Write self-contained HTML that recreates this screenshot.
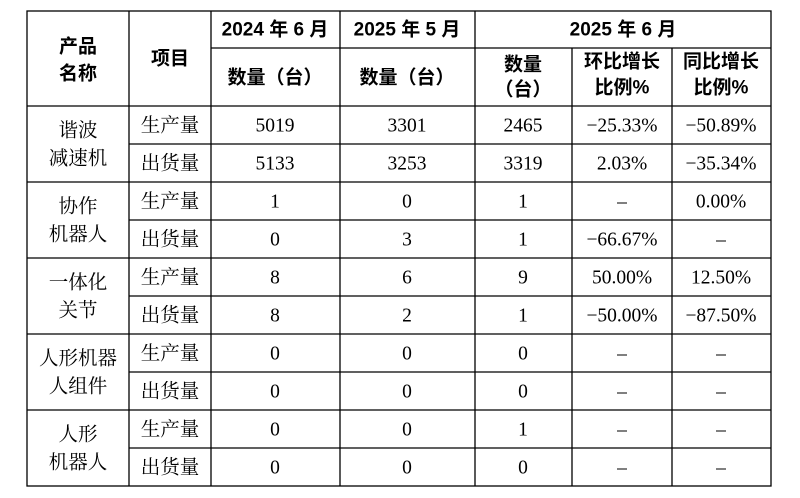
<!DOCTYPE html>
<html><head><meta charset="utf-8"><style>
html,body{margin:0;padding:0;background:#fff;}
svg text{font-family:"Liberation Serif","Noto Serif CJK SC",serif;font-size:19.5px;fill:#000;text-anchor:middle;dominant-baseline:central;}
svg text.h{font-family:"Liberation Sans","Noto Sans CJK SC",sans-serif;font-weight:bold;font-size:19px;}
</style></head><body>
<svg width="800" height="493" viewBox="0 0 800 493" xmlns="http://www.w3.org/2000/svg">
<g stroke="#000" stroke-width="1.3" fill="none">
<rect x="27" y="11" width="744" height="475"/>
<line x1="129" y1="11" x2="129" y2="486"/>
<line x1="211" y1="11" x2="211" y2="486"/>
<line x1="340" y1="11" x2="340" y2="486"/>
<line x1="475" y1="11" x2="475" y2="486"/>
<line x1="572" y1="48" x2="572" y2="486"/>
<line x1="672" y1="48" x2="672" y2="486"/>
<line x1="211" y1="48" x2="771" y2="48"/>
<line x1="27" y1="106" x2="771" y2="106"/>
<line x1="129" y1="144" x2="771" y2="144"/>
<line x1="27" y1="182" x2="771" y2="182"/>
<line x1="129" y1="220" x2="771" y2="220"/>
<line x1="27" y1="258" x2="771" y2="258"/>
<line x1="129" y1="296" x2="771" y2="296"/>
<line x1="27" y1="334" x2="771" y2="334"/>
<line x1="129" y1="372" x2="771" y2="372"/>
<line x1="27" y1="410" x2="771" y2="410"/>
<line x1="129" y1="448" x2="771" y2="448"/>
</g>
<text class="h" x="78" y="47">产品</text>
<text class="h" x="78" y="74">名称</text>
<text class="h" x="170" y="59">项目</text>
<text class="h" x="275" y="30">2024 年 6 月</text>
<text class="h" x="407" y="30">2025 年 5 月</text>
<text class="h" x="623" y="30">2025 年 6 月</text>
<text class="h" x="275" y="78">数量（台）</text>
<text class="h" x="407" y="78">数量（台）</text>
<text class="h" x="523" y="65">数量</text>
<text class="h" x="523" y="90">（台）</text>
<text class="h" x="622" y="62">环比增长</text>
<text class="h" x="622" y="88">比例%</text>
<text class="h" x="721" y="62">同比增长</text>
<text class="h" x="721" y="88">比例%</text>

<text x="78" y="131">谐波</text><text x="78" y="159">减速机</text>
<text x="78" y="207">协作</text><text x="78" y="235">机器人</text>
<text x="78" y="283">一体化</text><text x="78" y="311">关节</text>
<text x="78" y="359">人形机器</text><text x="78" y="387">人组件</text>
<text x="78" y="435">人形</text><text x="78" y="463">机器人</text>

<g>
<text x="170" y="126">生产量</text><text x="275" y="126">5019</text><text x="407" y="126">3301</text><text x="523" y="126">2465</text><text x="622" y="126">−25.33%</text><text x="721" y="126">−50.89%</text>
<text x="170" y="164">出货量</text><text x="275" y="164">5133</text><text x="407" y="164">3253</text><text x="523" y="164">3319</text><text x="622" y="164">2.03%</text><text x="721" y="164">−35.34%</text>
<text x="170" y="202">生产量</text><text x="275" y="202">1</text><text x="407" y="202">0</text><text x="523" y="202">1</text><text x="622" y="202">–</text><text x="721" y="202">0.00%</text>
<text x="170" y="240">出货量</text><text x="275" y="240">0</text><text x="407" y="240">3</text><text x="523" y="240">1</text><text x="622" y="240">−66.67%</text><text x="721" y="240">–</text>
<text x="170" y="278">生产量</text><text x="275" y="278">8</text><text x="407" y="278">6</text><text x="523" y="278">9</text><text x="622" y="278">50.00%</text><text x="721" y="278">12.50%</text>
<text x="170" y="316">出货量</text><text x="275" y="316">8</text><text x="407" y="316">2</text><text x="523" y="316">1</text><text x="622" y="316">−50.00%</text><text x="721" y="316">−87.50%</text>
<text x="170" y="354">生产量</text><text x="275" y="354">0</text><text x="407" y="354">0</text><text x="523" y="354">0</text><text x="622" y="354">–</text><text x="721" y="354">–</text>
<text x="170" y="392">出货量</text><text x="275" y="392">0</text><text x="407" y="392">0</text><text x="523" y="392">0</text><text x="622" y="392">–</text><text x="721" y="392">–</text>
<text x="170" y="430">生产量</text><text x="275" y="430">0</text><text x="407" y="430">0</text><text x="523" y="430">1</text><text x="622" y="430">–</text><text x="721" y="430">–</text>
<text x="170" y="468">出货量</text><text x="275" y="468">0</text><text x="407" y="468">0</text><text x="523" y="468">0</text><text x="622" y="468">–</text><text x="721" y="468">–</text>
</g>
</svg>
</body></html>
